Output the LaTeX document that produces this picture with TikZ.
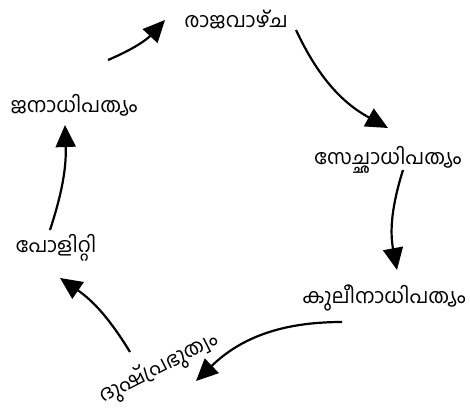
\documentclass[tikz,border=0pt]{standalone}
\usepackage{fontspec}
\newfontfamily\mlfont[Script=Malayalam]{Hind Kochi}
\usetikzlibrary{arrows.meta}
\begin{document}
\begin{tikzpicture}
[%%%%%%%%%%%%%%%%%%%%%%%%%%%%%%
x=1pt,y=-1pt,
stage/.style={font=\mlfont\fontsize{20.5}{24}\selectfont, inner sep=0pt},
cycle/.style={line width=2.2pt, -{Triangle[length=22pt,width=20pt]}},
]%%%%%%%%%%%%%%%%%%%%%%%%%%%%%%

\useasboundingbox (0,0) rectangle (470,412);

\node[stage] (raj) at (236,20){രാജവാഴ്ച};
\node[stage] (swe) at (388,160){സേച്ഛാധിപത്യം};
\node[stage] (kul) at (384,298){കുലീനാധിപത്യം};
\node[stage,rotate=27] (dus) at (159,369){ദുഷ്പ്രഭുത്വം};
\node[stage] (pol) at (56,248){പോളിറ്റി};
\node[stage] (jan) at (74,105){ജനാധിപത്യം};

\coordinate (s1) at (108,60);  \coordinate (e1) at (165,20);
\coordinate (s2) at (296,30);  \coordinate (e2) at (388,128);
\coordinate (s3) at (403,170); \coordinate (e3) at (397,270);
\coordinate (s4) at (342,322); \coordinate (e4) at (196,381);
\coordinate (s5) at (130,352); \coordinate (e5) at (60,278);
\coordinate (s6) at (50,230);  \coordinate (e6) at (65,125);

\draw[cycle] (s1) to[bend right=12] (e1);
\draw[cycle] (s2) to[bend right=18] (e2);
\draw[cycle] (s3) to[bend right=14] (e3);
\draw[cycle] (s4) to[bend right=22] (e4);
\draw[cycle] (s5) to[bend right=12] (e5);
\draw[cycle] (s6) to[bend right=10] (e6);
\end{tikzpicture}
\end{document}
